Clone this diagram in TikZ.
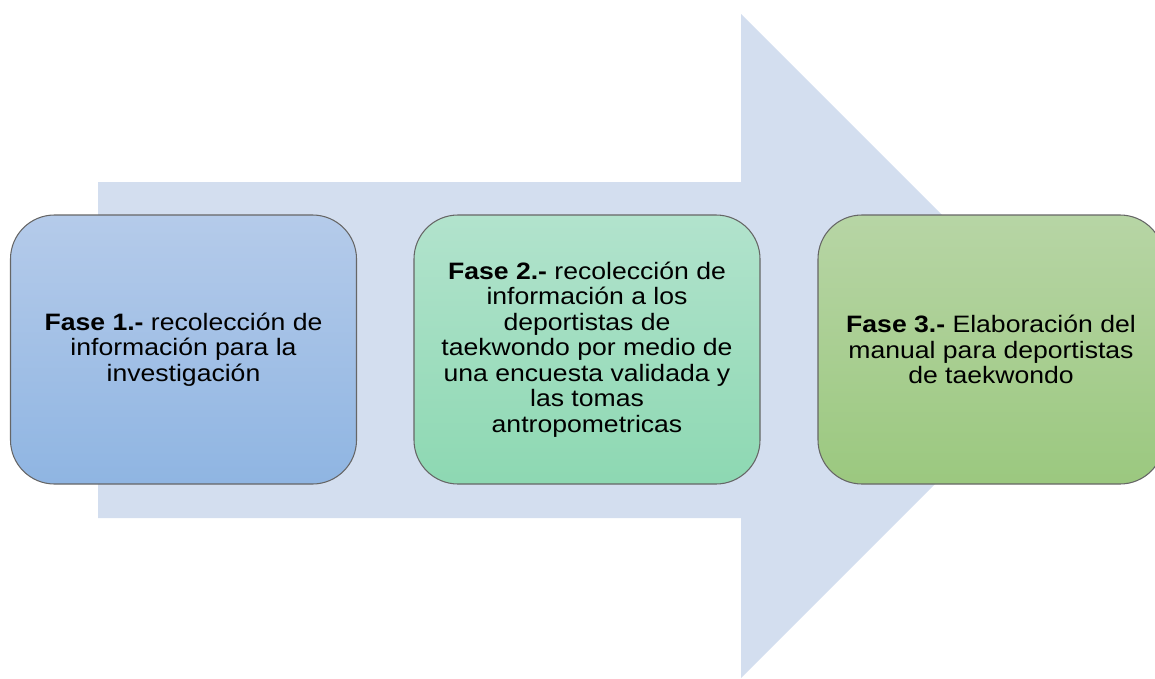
\documentclass[tikz,border=0pt]{standalone}
\usepackage{fontspec}
\setmainfont{Liberation Sans}[FakeStretch=1.12]
\definecolor{flecha}{RGB}{211,222,239}
\definecolor{azulA}{RGB}{181,203,234}
\definecolor{azulB}{RGB}{143,181,226}
\definecolor{verdeA}{RGB}{178,227,205}
\definecolor{verdeB}{RGB}{141,216,178}
\definecolor{olivaA}{RGB}{183,213,165}
\definecolor{olivaB}{RGB}{155,200,127}
\tikzset{fase/.style={draw=black!60, line width=0.8pt, rounded corners=33pt,
  minimum width=259.5pt, minimum height=201.75pt, inner sep=0pt,
  align=center, font=\fontsize{17.8}{19.1}\selectfont}}
\begin{document}
\begin{tikzpicture}[x=0.75pt,y=-0.75pt]
\path[use as bounding box] (0,0) rectangle (1155,678);
\clip (0,0) rectangle (1155,678);
\fill[flecha] (98,182) -- (741,182) -- (741,14) -- (1073,346) -- (741,678) -- (741,518) -- (98,518) -- cycle;
\node[fase, top color=azulA, bottom color=azulB] (f1) at (183.5,349.5)
  {\textbf{Fase 1.-} recolección de\\información para la\\investigación};
\node[fase, top color=verdeA, bottom color=verdeB] (f2) at (587,349.5)
  {\textbf{Fase 2.-} recolección de\\información a los\\deportistas de\\taekwondo por medio de\\una encuesta validada y\\las tomas\\antropometricas};
\node[fase, top color=olivaA, bottom color=olivaB] (f3) at (991,349.5)
  {\textbf{Fase 3.-} Elaboración del\\manual para deportistas\\de taekwondo};
\end{tikzpicture}
\end{document}
